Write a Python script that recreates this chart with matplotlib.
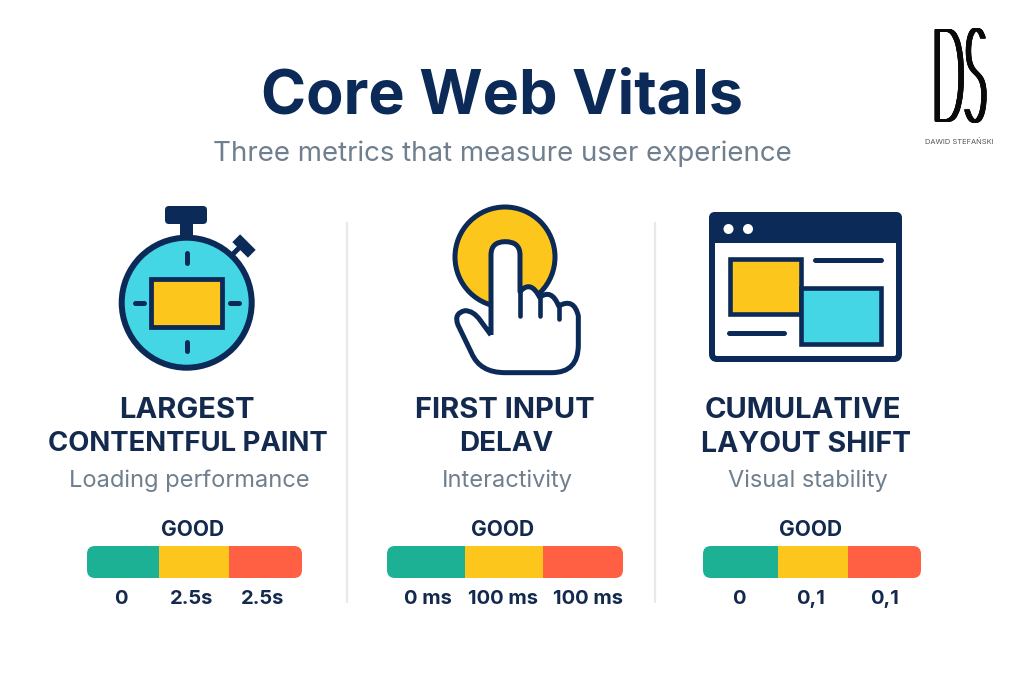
import matplotlib
matplotlib.use("Agg")
import matplotlib.pyplot as plt
from matplotlib.patches import Circle, Rectangle, FancyBboxPatch, PathPatch
from matplotlib.path import Path
from matplotlib.patheffects import AbstractPathEffect
from matplotlib.transforms import Affine2D

NAVY = "#0b2a57"; YEL = "#fdc61c"; CY = "#45d6e6"; GR = "#1cb194"; RED = "#ff6044"; SLATE = "#6f7f8e"; INK = "#132a4e"

title = "Core Web Vitals"
subtitle = "Three metrics that measure user experience"
metric_names = [["LARGEST", "CONTENTFUL PAINT"], ["FIRST INPUT", "DELAV"], ["CUMULATIVE", "LAYOUT SHIFT"]]
metric_desc = ["Loading performance", "Interactivity", "Visual stability"]
scale_label = "GOOD"
scale_segments = [[72, 70, 73], [78, 78, 80], [75, 70, 73]]
scale_ticks = [["0", "2.5s", "2.5s"], ["0 ms", "100 ms", "100 ms"], ["0", "0,1", "0,1"]]
scale_colors = [GR, YEL, RED]

panel_left = [87, 387, 703]
name_x = [[187, 188], [505, 506], [803, 806]]
name_size = [[21, 19.8], [21, 20], [21, 20.5]]
desc_x = [189, 507, 808]
good_x = [192, 503, 810]
tick_x = [[121, 192, 263], [428, 503, 588], [739, 811, 885]]

SANS = ["Inter", "DejaVu Sans"]
fig = plt.figure(figsize=(10.24, 6.83), dpi=100, facecolor="white")
ax = fig.add_axes([0, 0, 1, 1])
ax.set_xlim(0, 1024); ax.set_ylim(683, 0); ax.axis("off")
PX = 0.72

class Stretch(AbstractPathEffect):
    """Draws real text stretched about an anchor, with the strokes thickened by repeated offset copies."""
    def __init__(self, sx, sy, cx, cy, xs, ys):
        super().__init__()
        self.sx, self.sy, self.cx, self.cy, self.xs, self.ys = sx, sy, cx, cy, xs, ys
    def draw_path(self, renderer, gc, tpath, affine, rgbFace=None):
        for dx in self.xs:
            for dy in self.ys:
                t = affine + Affine2D().translate(-self.cx, -self.cy).scale(self.sx, self.sy).translate(self.cx + dx, self.cy + dy)
                renderer.draw_path(gc, tpath, t, rgbFace)

def txt(x, y, s, size, color=INK, weight="bold", **kw):
    ax.text(x, y, s, fontsize=size, color=color, fontweight=weight, ha="center", va="center", family=SANS, **kw)

txt(502, 98, title, 44, NAVY, "bold")
txt(502, 154, subtitle, 19.9, SLATE, "normal")

# logo
xs = [-2.4, -2.0, -1.6, -1.2, -0.8, -0.4, 0, 0.4, 0.8, 1.2, 1.6, 2.0, 2.4]
ys = [-0.6, 0, 0.6]
ax.text(959.5, 89, "DS", fontsize=30, family="Lato", fontweight=100, color="#0a0a0a", ha="center", va="baseline",
        path_effects=[Stretch(1.02, 3.13, 959.5, 683 - 74, xs, ys)])
ax.text(959, 141, "DAWID STEFAŃSKI", fontsize=5.4, color="#555555", ha="center", va="center", family=SANS)

# separators
for x in (347, 655):
    ax.plot([x, x], [222, 603], color="#e7e9eb", lw=2.2 * PX, solid_capstyle="butt")

def rrect(x0, y0, x1, y1, r, fc, ec="none", lw=0, z=2):
    p = FancyBboxPatch((x0 + r, y0 + r), x1 - x0 - 2 * r, y1 - y0 - 2 * r, boxstyle=f"round,pad={r},rounding_size={r}",
                       fc=fc, ec=ec, lw=lw * PX, zorder=z)
    ax.add_patch(p)
    return p

def line(xs, ys, w, z=5, cap="round"):
    ax.plot(xs, ys, color=NAVY, lw=w * PX, solid_capstyle=cap, zorder=z)

# stopwatch
rrect(165, 206, 207, 224, 4, NAVY)
ax.add_patch(Rectangle((179.5, 222), 13.5, 16, fc=NAVY, ec="none", zorder=2))
ax.add_patch(Rectangle((-11, -5.5), 22, 11, fc=NAVY, ec="none", zorder=2,
                       transform=Affine2D().rotate_deg(45).translate(244, 246) + ax.transData))
line([232, 240], [255, 247], 5, 2, "butt")
ax.add_patch(Circle((186.7, 302.7), 65, fc=CY, ec=NAVY, lw=6 * PX, zorder=3))
line([186.7, 186.7], [253, 263], 5); line([186.7, 186.7], [342, 351], 5)
line([135, 144], [302.7, 302.7], 5); line([230, 239], [302.7, 302.7], 5)
ax.add_patch(Rectangle((151, 278.5), 70.5, 48, fc=YEL, ec=NAVY, lw=4.8 * PX, zorder=5, joinstyle="miter"))

# hand
ax.add_patch(Circle((505, 257), 50, fc=YEL, ec=NAVY, lw=5 * PX, zorder=2))
def h(x, y):
    return (430 + x / 3, 190 + y / 3)
M, L, C = Path.MOVETO, Path.LINETO, Path.CURVE3
hand = [(M, 183, 435), (L, 183, 195), (C, 183, 155), (C, 226, 155), (C, 270, 155), (C, 270, 195), (L, 270, 305),
        (C, 302, 268), (C, 329, 322), (C, 365, 295), (C, 386, 348), (C, 432, 322), (C, 445, 378),
        (L, 445, 465), (C, 445, 548), (C, 365, 548), (L, 225, 548), (C, 150, 548), (C, 125, 490),
        (L, 84, 405), (C, 70, 370), (C, 105, 362), (C, 130, 362), (C, 150, 390), (L, 183, 435)]
verts = [h(x, y) for _, x, y in hand]
ax.add_patch(PathPatch(Path(verts, [c for c, _, _ in hand]), fc="white", ec=NAVY, lw=5 * PX, zorder=3, joinstyle="round"))
for x, y0, y1 in [(270, 295, 378), (329, 320, 378), (387, 345, 388)]:
    line([h(x, y0)[0]] * 2, [h(x, y0)[1], h(x, y1)[1]], 4.6)

# browser
rrect(712, 215, 899, 359, 5, "white", NAVY, 6)
rrect(709, 212, 902, 243, 6, NAVY, z=3)
ax.add_patch(Rectangle((709, 232), 193, 11, fc=NAVY, ec="none", zorder=3))
for x in (728.5, 748):
    ax.add_patch(Circle((x, 229), 5, fc="white", ec="none", zorder=4))
ax.add_patch(Rectangle((729.5, 259), 71, 54.5, fc=YEL, ec=NAVY, lw=4.6 * PX, zorder=4))
ax.add_patch(Rectangle((800.5, 287.5), 80.5, 56.5, fc=CY, ec=NAVY, lw=4.6 * PX, zorder=5))
line([815, 881], [259.5, 259.5], 5)
line([729, 784], [332.7, 332.7], 5)

# metric text and scales
for i, names in enumerate(metric_names):
    for j, n in enumerate(names):
        txt(name_x[i][j], 411 + 33 * j, n, name_size[i][j])
    txt(desc_x[i], 481, metric_desc[i], 17, SLATE, "normal")
    txt(good_x[i], 530.5, scale_label, 15)
    left = panel_left[i]
    clip = FancyBboxPatch((left + 8, 554), sum(scale_segments[i]) - 16, 16, boxstyle="round,pad=8,rounding_size=8",
                          fc="none", ec="none", transform=ax.transData)
    ax.add_patch(clip)
    for w, c in zip(scale_segments[i], scale_colors):
        b = ax.barh(562, w, height=32, left=left, color=c, linewidth=0, zorder=2)
        b[0].set_clip_path(clip)
        left += w
    for x, t in zip(tick_x[i], scale_ticks[i]):
        txt(x, 599, t, 14.5)

fig.savefig("out.png", dpi=100, facecolor="white")
